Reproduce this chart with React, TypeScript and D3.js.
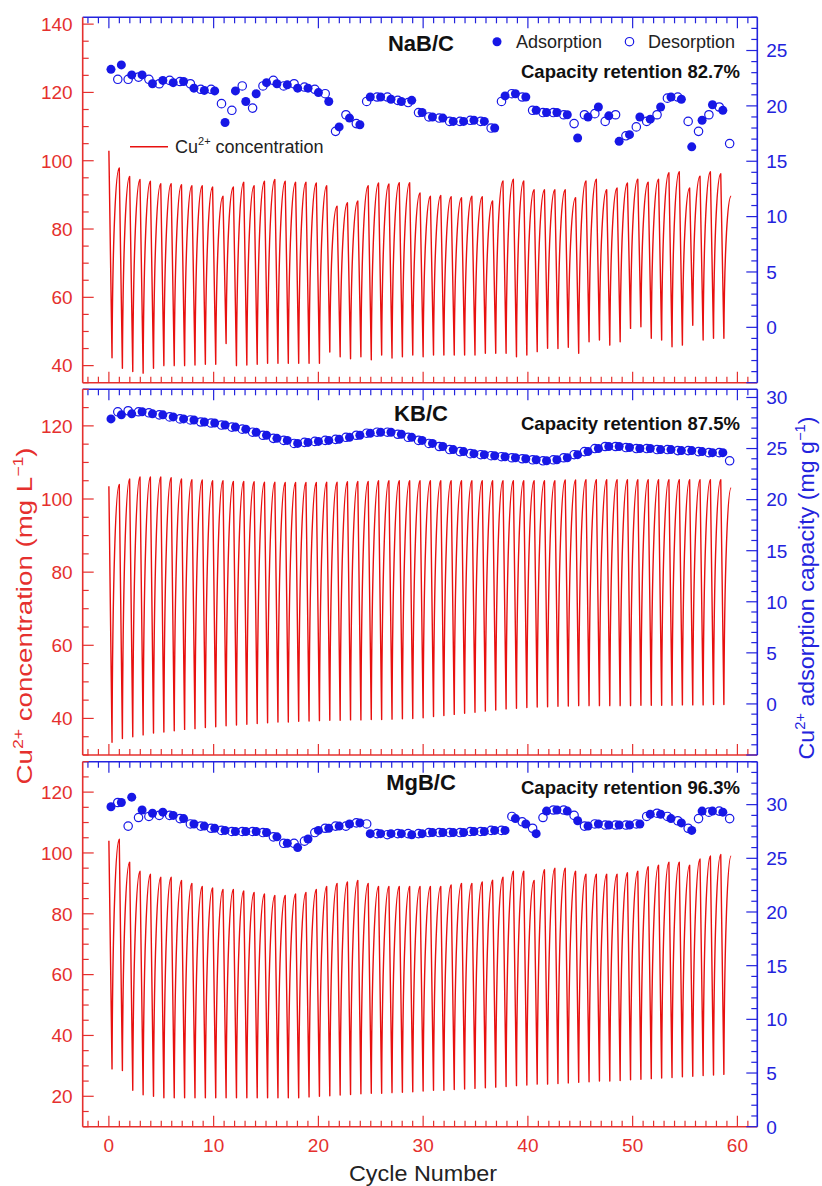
import * as d3 from "d3";

// ---- data ----
const cycleNumbers = d3.range(60);
const cycleTicks = [0, 10, 20, 30, 40, 50, 60];

// NaB/C
const naPeaks = [102.9, 97.9, 95.4, 94.5, 94, 93.3, 93.3, 93, 92.7, 92.7, 92.3, 89.6, 92.3, 93.7, 92.7, 94, 94.5, 94, 93.7, 93.7, 93.5, 92.7, 86.7, 87.7, 88.2, 92.7, 93.5, 93.2, 93.6, 93.6, 90.6, 89.6, 89.8, 89.5, 89.2, 89.6, 89.5, 88.2, 94.1, 94.6, 94.1, 91.5, 91.5, 91.5, 91.5, 89.2, 94.1, 94.6, 91.5, 92, 93.5, 94.6, 93.7, 94.6, 96.5, 96.8, 92, 95.5, 96.8, 96.2, 89.6];
const naTroughs = [42.3, 39.2, 38.3, 37.8, 39.2, 40, 40, 40, 40.2, 40.4, 40.4, 46.5, 40, 40.2, 40.4, 40.7, 40.7, 40.7, 40.7, 40.7, 40.7, 44, 42.6, 42, 42.6, 41.7, 43.1, 42.2, 42.6, 43.1, 42.6, 43.1, 43.1, 43.1, 43.1, 43.1, 43.6, 43.6, 43.6, 42.6, 43.1, 44.1, 45.1, 45, 45.4, 43.6, 47, 47.5, 46, 47, 50.9, 51.4, 48, 47.5, 45.5, 46, 51.8, 47.5, 48, 48];
const naAds = [23.3, 23.7, 22.8, 22.8, 22.0, 22.3, 22.1, 22.2, 21.6, 21.4, 21.35, 18.5, 21.35, 20.4, 21.1, 22.1, 22.0, 21.9, 21.6, 21.6, 21.2, 20.4, 18.1, 18.9, 18.3, 20.8, 20.8, 20.6, 20.4, 20.5, 19.4, 19.0, 18.9, 18.6, 18.6, 18.7, 18.6, 18.0, 20.9, 21.1, 20.8, 19.6, 19.4, 19.4, 19.2, 17.1, 19.0, 19.9, 19.1, 16.8, 17.4, 19.0, 18.8, 19.9, 20.8, 20.6, 16.3, 18.7, 20.1, 19.6];
const naDes = [22.4, 22.4, 22.6, 22.4, 22.0, 22.3, 22.2, 22.0, 21.5, 21.5, 20.2, 19.6, 21.8, 19.8, 21.8, 22.3, 21.8, 22.0, 21.7, 21.5, 21.1, 17.7, 19.2, 18.4, 20.4, 20.8, 20.8, 20.5, 20.3, 19.4, 19.0, 18.9, 18.6, 18.6, 18.7, 18.6, 18.0, 20.4, 21.1, 20.8, 19.6, 19.4, 19.4, 19.2, 18.4, 19.2, 19.3, 18.6, 19.2, 17.3, 18.1, 18.6, 19.2, 20.7, 20.8, 18.6, 17.7, 19.2, 19.9, 16.6];

// KB/C
const kbPeaks = [103.5, 104, 105.5, 106, 106, 106, 105.8, 105.5, 105.3, 105.2, 105, 105, 104.8, 104.8, 104.7, 104.6, 104.6, 104.5, 104.5, 104.5, 104.5, 104.6, 104.6, 104.7, 104.8, 104.8, 105, 105, 105, 105, 105, 105, 105, 105, 105, 105, 105, 105, 105, 105, 105, 105, 105, 105, 105.2, 105.2, 105.3, 105.3, 105.3, 105.3, 105.3, 105.3, 105.3, 105.3, 105.3, 105.3, 105.3, 105.3, 105.3, 105.3, 103];
const kbTroughs = [33.5, 34.5, 35, 35.5, 36, 36.3, 36.6, 37, 37.2, 37.5, 37.7, 38, 38.2, 38.4, 38.6, 38.8, 39, 39, 39.2, 39.3, 39.4, 39.5, 39.5, 39.6, 39.6, 39.7, 39.7, 39.8, 39.9, 40, 40.2, 40.5, 40.8, 41.1, 41.4, 41.7, 42, 42.3, 42.6, 42.8, 43, 43.1, 43.2, 43.3, 43.4, 43.5, 43.5, 43.5, 43.5, 43.5, 43.5, 43.6, 43.6, 43.6, 43.6, 43.7, 43.7, 43.7, 43.8, 43.8];
const kbAds = [27.9, 28.3, 28.4, 28.6, 28.4, 28.3, 28.1, 27.9, 27.8, 27.6, 27.5, 27.3, 27.1, 26.9, 26.6, 26.3, 26.0, 25.8, 25.5, 25.6, 25.7, 25.8, 25.9, 26.1, 26.3, 26.5, 26.6, 26.6, 26.4, 26.1, 25.8, 25.5, 25.2, 24.9, 24.7, 24.5, 24.4, 24.3, 24.2, 24.1, 24.0, 23.9, 23.8, 23.9, 24.1, 24.4, 24.7, 25.0, 25.2, 25.2, 25.1, 25.0, 25.0, 24.9, 24.9, 24.8, 24.8, 24.7, 24.6, 24.6];
const kbDes = [28.6, 28.7, 28.6, 28.5, 28.3, 28.1, 27.9, 27.8, 27.6, 27.5, 27.3, 27.1, 26.9, 26.6, 26.3, 26.0, 25.8, 25.5, 25.6, 25.7, 25.8, 25.9, 26.1, 26.3, 26.5, 26.6, 26.6, 26.4, 26.1, 25.8, 25.5, 25.2, 24.9, 24.7, 24.5, 24.4, 24.3, 24.2, 24.1, 24.0, 23.9, 23.8, 23.9, 24.1, 24.4, 24.7, 25.0, 25.2, 25.2, 25.1, 25.0, 25.0, 24.9, 24.9, 24.8, 24.8, 24.7, 24.6, 24.6, 23.8];

// MgB/C
const mgPeaks = [104, 104.5, 97, 94, 93, 92, 92, 91, 90, 89, 88.5, 88, 88, 87.5, 87, 86.5, 86, 86, 86.5, 87, 88, 89, 90, 90.5, 91, 90, 89, 89, 89, 89, 89, 89, 89, 89.5, 90, 90, 90.5, 91, 92, 94, 94, 91, 94.5, 95, 95, 94, 93, 93, 93, 93, 93.5, 94, 95.5, 96, 97, 97, 96, 98, 99, 99.5, 99];
const mgTroughs = [29, 28.5, 22, 20.5, 20, 19.5, 19.5, 19.5, 19.5, 19.5, 19.5, 19.5, 19.5, 19.5, 19.5, 19.5, 19.5, 19.5, 19.5, 19.8, 20, 20.2, 20.4, 20.6, 20.8, 21, 21, 21.2, 21.3, 21.5, 21.7, 22, 22, 22.2, 22.4, 22.6, 22.8, 23, 23.2, 23.5, 23.7, 24, 24, 24.2, 24.4, 24.6, 24.8, 25, 25, 25.2, 25.4, 25.6, 25.8, 26, 26.2, 26.4, 26.6, 26.8, 27, 27.2];
const mgAds = [29.8, 30.2, 30.7, 29.5, 29.2, 29.3, 29.0, 28.7, 28.2, 28.0, 27.8, 27.6, 27.5, 27.5, 27.5, 27.4, 27.0, 26.4, 26.0, 26.8, 27.6, 27.8, 28.0, 28.2, 28.3, 27.3, 27.3, 27.3, 27.3, 27.2, 27.3, 27.4, 27.4, 27.4, 27.4, 27.5, 27.5, 27.6, 27.6, 28.7, 28.2, 27.3, 29.4, 29.5, 29.4, 28.5, 28.0, 28.2, 28.1, 28.1, 28.1, 28.2, 29.1, 29.1, 28.7, 28.3, 27.6, 29.4, 29.4, 29.3];
const mgDes = [30.2, 28.0, 28.8, 28.9, 29.0, 29.0, 28.7, 28.2, 28.0, 27.8, 27.6, 27.5, 27.5, 27.5, 27.4, 27.0, 26.4, 26.4, 26.6, 27.4, 27.8, 28.0, 28.0, 28.3, 28.2, 27.3, 27.2, 27.3, 27.3, 27.3, 27.4, 27.4, 27.4, 27.4, 27.5, 27.5, 27.6, 27.6, 28.9, 28.4, 27.8, 28.8, 29.5, 29.5, 29.0, 28.0, 28.2, 28.1, 28.1, 28.1, 28.2, 28.9, 29.2, 28.9, 28.5, 27.8, 28.7, 29.3, 29.4, 28.7];

const panelNames = ["NaB/C", "KB/C", "MgB/C"];
const retentions = ["82.7%", "87.5%", "96.3%"];

// ---- layout ----
const W = 822;
const H = 1186;
const RED = "#e5302e";
const BLUE = "#2323dd";
const MARK = "#1717e6";
const FONT = "'Liberation Sans', Arial, Helvetica, sans-serif";
const PERIOD = 0.99;

const x = d3.scaleLinear().domain([-2.5, 61.9]).range([82.7, 757.3]);

const panels = [
  { top: 17.3, bottom: 382.7, left: [35, 142], right: [-5, 28], lTicks: d3.range(40, 141, 20), lMinor: d3.range(35, 143, 5), rTicks: d3.range(0, 26, 5), rMinor: d3.range(-5, 29, 1), nameY: 34, retY: 61, peaks: naPeaks, troughs: naTroughs, ads: naAds, des: naDes },
  { top: 389.3, bottom: 755, left: [30, 130], right: [-5, 30.8], lTicks: d3.range(40, 121, 20), lMinor: d3.range(30, 131, 5), rTicks: d3.range(0, 31, 5), rMinor: d3.range(-5, 31, 1), nameY: 32, retY: 41, peaks: kbPeaks, troughs: kbTroughs, ads: kbAds, des: kbDes },
  { top: 761.7, bottom: 1126.7, left: [10, 130], right: [0, 34], lTicks: d3.range(20, 121, 20), lMinor: d3.range(10, 131, 5), rTicks: d3.range(0, 31, 5), rMinor: d3.range(0, 35, 1), nameY: 28, retY: 32, peaks: mgPeaks, troughs: mgTroughs, ads: mgAds, des: mgDes },
];

function concPath(peaks: number[], troughs: number[], y: d3.ScaleLinear<number, number>) {
  const p = d3.path();
  p.moveTo(x(0), y(peaks[0]));
  troughs.forEach((t, i) => {
    const xt = x(i * PERIOD + 0.3);
    const yt = y(t);
    const xp = x((i + 1) * PERIOD);
    const yp = y(peaks[i + 1]);
    p.lineTo(xt, yt);
    const w = xp - xt;
    p.bezierCurveTo(xt + w * 0.08, yt + (yp - yt) * 0.65, xp - w * 0.45, yp, xp, yp);
  });
  return p.toString();
}

function Panel({ cfg, idx }: any) {
  const yl = d3.scaleLinear().domain(cfg.left).range([cfg.bottom, cfg.top]);
  const yr = d3.scaleLinear().domain(cfg.right).range([cfg.bottom, cfg.top]);
  const x0 = x.range()[0];
  const x1 = x.range()[1];
  const minorX = d3.range(-2, 62, 1);
  return (
    <g>
      <path d={concPath(cfg.peaks, cfg.troughs, yl)} fill="none" stroke="#e8100f" strokeWidth={1.4} strokeLinejoin="round" />
      {cycleNumbers.map((i) => (
        <circle key={"d" + i} cx={x(i * PERIOD + 0.85)} cy={yr(cfg.des[i])} r={4.2} fill="#fff" stroke={MARK} strokeWidth={1.2} />
      ))}
      {cycleNumbers.map((i) => (
        <circle key={"a" + i} cx={x(i * PERIOD + 0.2)} cy={yr(cfg.ads[i])} r={4.5} fill={MARK} />
      ))}
      {/* bottom axis (red) */}
      <line x1={x0} x2={x1} y1={cfg.bottom} y2={cfg.bottom} stroke={RED} strokeWidth={1.6} />
      {minorX.map((v) => (
        <line key={"bx" + v} x1={x(v)} x2={x(v)} y1={cfg.bottom} y2={cfg.bottom - (v % 10 === 0 ? 11 : 6)} stroke={RED} strokeWidth={1.2} />
      ))}
      {/* top axis (blue) */}
      <line x1={x0} x2={x1} y1={cfg.top} y2={cfg.top} stroke={BLUE} strokeWidth={1.6} />
      {minorX.map((v) => (
        <line key={"tx" + v} x1={x(v)} x2={x(v)} y1={cfg.top} y2={cfg.top + (v % 10 === 0 ? 11 : 6)} stroke={BLUE} strokeWidth={1.2} />
      ))}
      {/* left axis */}
      <line x1={x0} x2={x0} y1={cfg.top} y2={cfg.bottom} stroke={RED} strokeWidth={1.6} />
      {cfg.lMinor.map((v: number) => (
        <line key={"lm" + v} x1={x0} x2={x0 + (cfg.lTicks.includes(v) ? 11 : 6)} y1={yl(v)} y2={yl(v)} stroke={RED} strokeWidth={1.2} />
      ))}
      {cfg.lTicks.map((v: number) => (
        <text key={"lt" + v} x={x0 - 10} y={yl(v)} dy="0.36em" textAnchor="end" fill={RED} fontSize={19} fontFamily={FONT}>{v}</text>
      ))}
      {/* right axis */}
      <line x1={x1} x2={x1} y1={cfg.top} y2={cfg.bottom} stroke={BLUE} strokeWidth={1.6} />
      {cfg.rMinor.map((v: number) => (
        <line key={"rm" + v} x1={x1} x2={x1 - (v % 5 === 0 ? 11 : 6)} y1={yr(v)} y2={yr(v)} stroke={BLUE} strokeWidth={1.2} />
      ))}
      {cfg.rTicks.map((v: number) => (
        <text key={"rt" + v} x={x1 + 9} y={yr(v)} dy="0.36em" textAnchor="start" fill={BLUE} fontSize={19} fontFamily={FONT}>{v}</text>
      ))}
      <text x={421} y={cfg.top + cfg.nameY} textAnchor="middle" fontWeight="bold" fontSize={22} fontFamily={FONT} fill="#111">{panelNames[idx]}</text>
      <text x={740} y={cfg.top + cfg.retY} textAnchor="end" fontWeight="bold" fontSize={18.5} fontFamily={FONT} fill="#111">{"Capacity retention " + retentions[idx]}</text>
    </g>
  );
}

export default function App() {
  const bottomPanel = panels[2];
  return (
    <svg width={W} height={H} style={{ position: "absolute", left: 0, top: 0, background: "#fff" }}>
      <rect width={W} height={H} fill="#fff" />
      {panels.map((p, i) => (
        <Panel key={i} cfg={p} idx={i} />
      ))}
      {/* legend panel 1 */}
      <circle cx={497} cy={41.7} r={4.5} fill={MARK} />
      <text x={516} y={48} fontSize={18} fontFamily={FONT} fill="#222">Adsorption</text>
      <circle cx={629.5} cy={41.7} r={4.2} fill="#fff" stroke={MARK} strokeWidth={1.2} />
      <text x={648} y={48} fontSize={18} fontFamily={FONT} fill="#222">Desorption</text>
      <line x1={130} x2={168} y1={146.7} y2={146.7} stroke="#e8100f" strokeWidth={1.4} />
      <text x={175} y={153} fontSize={18} fontFamily={FONT} fill="#222">
        Cu<tspan fontSize={11} dy={-8}>2+</tspan><tspan dy={8}> concentration</tspan>
      </text>
      {cycleTicks.map((v) => (
        <text key={v} x={x(v)} y={bottomPanel.bottom + 25} textAnchor="middle" fill={RED} fontSize={19} fontFamily={FONT}>{v}</text>
      ))}
      <text x={423} y={1181} textAnchor="middle" fontSize={22} fontFamily={FONT} fill="#222" textLength={148} lengthAdjust="spacingAndGlyphs">Cycle Number</text>
      <text transform="translate(32,616) rotate(-90)" textAnchor="middle" fontSize={22} fontFamily={FONT} fill={RED} textLength={337} lengthAdjust="spacingAndGlyphs">
        Cu<tspan fontSize={14} dy={-9}>2+</tspan><tspan dy={9}> concentration (mg L</tspan><tspan fontSize={14} dy={-9}>−1</tspan><tspan dy={9}>)</tspan>
      </text>
      <text transform="translate(814,588) rotate(-90)" textAnchor="middle" fontSize={22} fontFamily={FONT} fill={BLUE} textLength={343} lengthAdjust="spacingAndGlyphs">
        Cu<tspan fontSize={14} dy={-9}>2+</tspan><tspan dy={9}> adsorption capacity (mg g</tspan><tspan fontSize={14} dy={-9}>−1</tspan><tspan dy={9}>)</tspan>
      </text>
    </svg>
  );
}
